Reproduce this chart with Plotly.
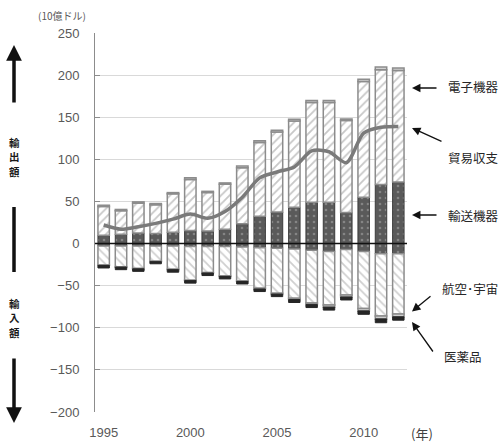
import plotly.graph_objects as go

years = list(range(1995, 2013))

# exports (positive)
transport_exp = [10, 11, 12.5, 12, 13.5, 15.5, 15, 17, 23.5, 32.5, 37.5, 43, 49, 49, 37, 55, 70, 73]
electronics_exp = [34, 28, 35.5, 34, 45.5, 60.5, 45.5, 53.5, 66.5, 87.5, 95, 102.5, 118.5, 118.5, 109, 137.5, 136.5, 132.5]
aero_exp = [1.5, 1.5, 1.5, 1.5, 1.5, 2, 1.5, 1.5, 2, 2, 2, 2, 2.5, 2.5, 2, 2.5, 3, 3]

# imports (negative)
transport_imp = [-3, -3, -3, -3, -3, -3.5, -3.5, -3.5, -4, -5, -5.5, -6.5, -8, -9.5, -7, -9.5, -12, -12]
electronics_imp = [-22.5, -24.5, -26.5, -18, -27.5, -40, -31, -35, -40.5, -48, -53.5, -58.5, -62.5, -63.5, -54, -67.5, -74, -71.5]
aero_imp = [-0.5, -0.5, -0.5, -0.5, -0.5, -0.5, -0.5, -0.5, -0.5, -1, -1, -1.5, -2, -2.5, -2.5, -3, -3.5, -3.5]
pharma_imp = [-3, -3, -3, -2.5, -3, -3, -3, -3, -3, -3, -3, -3.5, -3.5, -3.5, -3.5, -4, -4.5, -4]

# trade balance line
balance = [22, 17, 20, 24, 29, 35, 30, 38, 55, 78, 85, 91, 110, 109, 96, 131, 138, 139]

y_ticks = [-200, -150, -100, -50, 0, 50, 100, 150, 200, 250]
x_ticks = [1995, 2000, 2005, 2010]

FONT = "Liberation Sans, Noto Sans CJK JP, sans-serif"
JFONT = "Noto Sans CJK JP, sans-serif"
BORDER = "#8c8c8c"

fig = go.Figure()

def dots():
    return dict(shape=".", fgcolor="#b0b0b0", bgcolor="#5a5a5a", size=6, solidity=0.15)

fig.add_trace(go.Bar(x=years, y=transport_exp, name="輸送機器",
                     marker=dict(color="#5a5a5a", pattern=dots(), line=dict(color="#3a3a3a", width=1))))
fig.add_trace(go.Bar(x=years, y=transport_imp, name="輸送機器(輸入)",
                     marker=dict(color="#5a5a5a", pattern=dots(), line=dict(color="#3a3a3a", width=1))))
fig.add_trace(go.Bar(x=years, y=electronics_exp, name="電子機器",
                     marker=dict(color="white",
                                 pattern=dict(shape="/", fgcolor="#8f8f8f", bgcolor="white", size=6, solidity=0.3),
                                 line=dict(color=BORDER, width=1.5))))
fig.add_trace(go.Bar(x=years, y=electronics_imp, name="電子機器(輸入)",
                     marker=dict(color="white",
                                 pattern=dict(shape="\\", fgcolor="#a0a0a0", bgcolor="white", size=6, solidity=0.3),
                                 line=dict(color=BORDER, width=1.5))))
fig.add_trace(go.Bar(x=years, y=aero_exp, name="航空・宇宙",
                     marker=dict(color="#d0d0d0", line=dict(color=BORDER, width=1.5))))
fig.add_trace(go.Bar(x=years, y=aero_imp, name="航空・宇宙(輸入)",
                     marker=dict(color="#d0d0d0", line=dict(color=BORDER, width=1.5))))
fig.add_trace(go.Bar(x=years, y=pharma_imp, name="医薬品",
                     marker=dict(color="#262626", line=dict(color="#262626", width=1))))
fig.add_trace(go.Scatter(x=years, y=balance, name="貿易収支", mode="lines",
                         line=dict(color="#7a7a7a", width=3.5, shape="spline", smoothing=0.8)))

L, R, T, B = 95, 93, 33, 31
W, H = 500, 443
PW, PH = W - L - R, H - T - B

def fx(px):
    return (px - L) / PW

def fy(py):
    return (H - B - py) / PH

annotations = []

def text(px, py, s, size=12.5, color="#262626", xanchor="left", family=JFONT):
    annotations.append(dict(x=fx(px), y=fy(py), xref="paper", yref="paper", text=s,
                            showarrow=False, xanchor=xanchor, yanchor="middle",
                            font=dict(size=size, color=color, family=family)))

def arrow(tip, tail, width=1.3, head=2, size=1.3):
    annotations.append(dict(x=fx(tip[0]), y=fy(tip[1]), xref="paper", yref="paper", text="",
                            showarrow=True, ax=tail[0] - tip[0], ay=tail[1] - tip[1],
                            arrowhead=head, arrowsize=size, arrowwidth=width, arrowcolor="#111111"))

# right labels
text(446, 86, "電子機器")
arrow((412, 88), (438, 88))
text(446, 157.5, "貿易収支")
arrow((412, 128), (443, 142))
text(446, 215, "輸送機器")
arrow((412, 215), (438, 215))
text(440, 288, "航空･宇宙")
arrow((412, 311.5), (432, 295))
text(442, 356, "医薬品")
arrow((412, 322), (434, 353))

# units
text(62, 15, "(10億ドル)", size=10, color="#595959", xanchor="center")
text(422, 433, "(年)", size=13, color="#404040", xanchor="center")

# left side labels, one character per row
for i, ch in enumerate("輸出額"):
    text(14, 142 + 14.5 * i, "<b>" + ch + "</b>", size=10.5, color="#1a1a1a", xanchor="center")
for i, ch in enumerate("輸入額"):
    text(14, 303 + 14.5 * i, "<b>" + ch + "</b>", size=10.5, color="#1a1a1a", xanchor="center")
arrow((14, 45), (14, 104), width=3.5, head=2, size=0.9)
arrow((14, 423), (14, 357), width=3.5, head=2, size=0.9)

shapes = [
    dict(type="line", xref="paper", yref="paper", x0=fx(14), x1=fx(14), y0=fy(207), y1=fy(272),
         line=dict(color="#111111", width=3.5)),
    dict(type="line", xref="paper", yref="y", x0=0, x1=1, y0=0, y1=0,
         line=dict(color="#111111", width=1.5), layer="above"),
]

fig.update_layout(
    width=W, height=H,
    margin=dict(l=L, r=R, t=T, b=B, autoexpand=False),
    paper_bgcolor="white", plot_bgcolor="white",
    barmode="relative", bargap=0.34,
    showlegend=False,
    font=dict(family=FONT, size=13, color="#595959"),
    annotations=annotations,
    shapes=shapes,
    xaxis=dict(range=[1994.5, 2012.5], tickvals=x_ticks, ticktext=[str(v) for v in x_ticks],
               showgrid=False, zeroline=False, showline=False, ticks="", automargin=False,
               ticklabelstandoff=11, tickfont=dict(size=13, color="#595959", family=FONT)),
    yaxis=dict(range=[-200, 250], tickvals=y_ticks, showgrid=True, gridcolor="#d9d9d9", gridwidth=1,
               zeroline=False, showline=True, linecolor="#8c8c8c", linewidth=1, automargin=False,
               ticks="inside", ticklen=5, tickcolor="#8c8c8c",
               ticklabelstandoff=12, tickfont=dict(size=13, color="#595959", family=FONT)),
)

post = (
    "var de=document.documentElement, b=document.body;"
    "de.style.margin='0';de.style.padding='0';de.style.overflow='hidden';"
    "b.style.margin='0';b.style.padding='0';b.style.overflow='hidden';"
)

fig.write_html("out.html", config={"displayModeBar": False}, post_script=post)
